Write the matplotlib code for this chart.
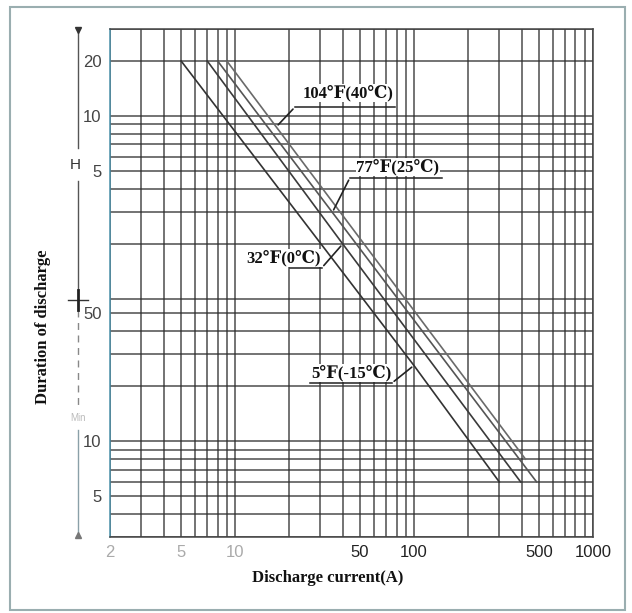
import matplotlib
matplotlib.use('Agg')
import matplotlib.pyplot as plt
import numpy as np
from matplotlib.patches import Rectangle
from matplotlib.ticker import FixedLocator, NullFormatter

# discharge current (A) vs duration of discharge (minutes)
cur_m15 = [5, 100, 300]
dur_m15 = [1200, 26, 6]
cur_0 = [7, 40, 395]
dur_0 = [1200, 120, 6]
cur_25 = [8, 485]
dur_25 = [1200, 6]
cur_40 = [9, 420]
dur_40 = [1200, 8]

labels = ['5℉(-15℃)', '32℉(0℃)', '77℉(25℃)', '104℉(40℃)']
# current at which each label's pointer touches its curve
pointer_cur = [100, 40, 35, 17]

# grid / tick values
x_grid = [2, 3, 4, 5, 6, 7, 8, 9, 10, 20, 30, 40, 50, 60, 70, 80, 90,
          100, 200, 300, 400, 500, 600, 700, 800, 900, 1000]
x_ticks = [2, 5, 10, 50, 100, 500, 1000]
x_ticklabels = ['2', '5', '10', '50', '100', '500', '1000']
y_grid = [3, 4, 5, 6, 7, 8, 9, 10, 20, 30, 40, 50, 60, 120, 180, 240,
          300, 360, 420, 480, 540, 600, 1200, 1800]
y_ticks = [5, 10, 50, 300, 600, 1200]
y_ticklabels = ['5', '10', '50', '5', '10', '20']

serif = ['Liberation Serif', 'DejaVu Serif', 'DejaVu Sans']
sans = ['Liberation Sans', 'DejaVu Sans']


def on_curve(c, d, x):
    # log-log interpolation along a curve
    return 10 ** np.interp(np.log10(x), np.log10(c), np.log10(d)[::1])


fig = plt.figure(figsize=(6.32, 6.13), dpi=100)
ax = fig.add_axes([0.174, 0.124, 0.764, 0.829])
ax.set_xscale('log')
ax.set_yscale('log')
ax.set_xlim(2, 1000)
ax.set_ylim(3, 1800)

ax.xaxis.set_major_locator(FixedLocator(x_ticks))
ax.xaxis.set_minor_locator(FixedLocator(x_grid))
ax.xaxis.set_minor_formatter(NullFormatter())
ax.set_xticklabels(x_ticklabels)
ax.yaxis.set_major_locator(FixedLocator(y_ticks))
ax.yaxis.set_minor_locator(FixedLocator(y_grid))
ax.yaxis.set_minor_formatter(NullFormatter())
ax.set_yticklabels(y_ticklabels)
ax.tick_params(which='both', length=0)
ax.tick_params(axis='x', pad=6)
ax.tick_params(axis='y', pad=6)
for t in ax.get_xticklabels():
    t.set_family(sans)
    t.set_fontsize(12)
    t.set_color('#222222' if t.get_text() not in ('2', '5', '10') else '#aaaaaa')
for t in ax.get_yticklabels():
    t.set_family(sans)
    t.set_fontsize(12)
    t.set_color('#444444')

ax.grid(which='both', color='#2e2e2e', lw=1.1, alpha=0.85)
for s in ax.spines.values():
    s.set_color('#444444')
    s.set_linewidth(1.1)
ax.spines['left'].set_color('#4a8fa8')

# curves
curves = [(cur_m15, dur_m15), (cur_0, dur_0), (cur_25, dur_25), (cur_40, dur_40)]
colors = ['#333333', '#3a3a3a', '#555555', '#6a6a6a']
for (c, d), col in zip(curves, colors):
    ax.plot(c, d, color=col, lw=1.2, zorder=3)

# labels with underline and pointer
# (label index, text x, text y, underline x0, x1, underline y, pointer from left end?)
anns = [
    (3, 0.493, 0.874, 0.383, 0.590, 0.846, True),
    (2, 0.596, 0.728, 0.497, 0.687, 0.707, True),
    (1, 0.360, 0.549, 0.373, 0.439, 0.530, False),
    (0, 0.501, 0.323, 0.414, 0.584, 0.303, False),
]
for i, tx, ty, ux0, ux1, uy, from_left in anns:
    c, d = curves[i]
    tgt = (pointer_cur[i], on_curve(c, d, pointer_cur[i]))
    ax.text(tx, ty, labels[i], transform=ax.transAxes, ha='center',
            va='center', family=serif, fontsize=12, fontweight='bold',
            color='#111111', zorder=5,
            bbox=dict(facecolor='white', edgecolor='none', pad=0.5))
    ax.plot([ux0, ux1], [uy, uy], transform=ax.transAxes, color='#222222',
            lw=1.1, zorder=5)
    start = (ux0, uy) if from_left else (ux1, uy)
    ax.annotate('', xy=tgt, xycoords='data', xytext=start,
                textcoords='axes fraction',
                arrowprops=dict(arrowstyle='-', color='#222222', lw=1.2),
                zorder=5)

# H / Min bracket on the left
bx = -0.066
ax.plot([bx, bx], [1.0, 0.765], transform=ax.transAxes, color='#555555',
        lw=1.0, clip_on=False)
ax.plot([bx, bx], [0.70, 0.487], transform=ax.transAxes, color='#555555',
        lw=1.0, clip_on=False)
ax.plot([bx, bx], [0.447, 0.26], transform=ax.transAxes, color='#888888',
        lw=1.0, ls=(0, (5, 4)), clip_on=False)
ax.plot([bx, bx], [0.21, 0.0], transform=ax.transAxes, color='#8aa0a8',
        lw=1.0, clip_on=False)
ax.plot([bx - 0.021, bx + 0.021], [0.467, 0.467], transform=ax.transAxes,
        color='#333333', lw=1.0, clip_on=False)
ax.plot([bx, bx], [0.487, 0.447], transform=ax.transAxes, color='#222222',
        lw=2.0, clip_on=False)
ax.plot([bx], [0.998], marker='v', ms=4, color='#333333',
        transform=ax.transAxes, clip_on=False)
ax.plot([bx], [0.003], marker='^', ms=4, color='#777777',
        transform=ax.transAxes, clip_on=False)
ax.text(bx - 0.006, 0.732, 'H', transform=ax.transAxes, ha='center',
        va='center', family=sans, fontsize=11, color='#333333')
ax.text(bx, 0.234, 'Min', transform=ax.transAxes, ha='center',
        va='center', family=sans, fontsize=7, color='#bbbbbb')

ax.text(-0.139, 0.413, 'Duration of discharge', transform=ax.transAxes,
        rotation=90, ha='center', va='center', family=serif, fontsize=12,
        fontweight='bold', color='#111111')
ax.text(0.451, -0.081, 'Discharge current(A)', transform=ax.transAxes,
        ha='center', va='center', family=serif, fontsize=12,
        fontweight='bold', color='#111111')

# outer frame
fig.patches.append(Rectangle((0.0158, 0.005), 0.973, 0.984,
                             transform=fig.transFigure, fill=False,
                             edgecolor='#9aaeb0', lw=1.5))

fig.savefig('out.png', dpi=100)
